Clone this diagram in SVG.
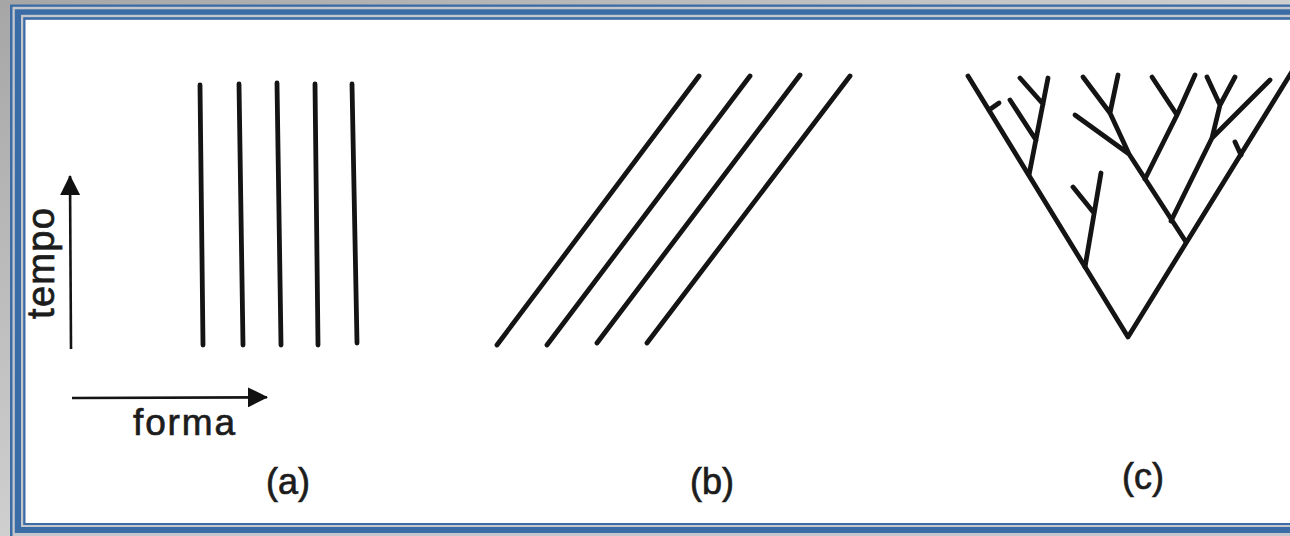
<svg xmlns="http://www.w3.org/2000/svg" width="1290" height="536" viewBox="0 0 1290 536">
<defs>
<linearGradient id="bg" x1="0" y1="0" x2="1" y2="1">
<stop offset="0" stop-color="#a6a6a6"/>
<stop offset="0.5" stop-color="#cfcfcf"/>
<stop offset="1" stop-color="#dedede"/>
</linearGradient>
<marker id="ah" viewBox="0 0 20 20" refX="19" refY="10" markerWidth="20" markerHeight="20" markerUnits="userSpaceOnUse" orient="auto">
<path d="M0,0 L20,10 L0,20 Z" fill="#111"/>
</marker>
<style>
.blue{fill:#3b6ca6}
.gap{fill:#c3c7cc}
.ln{stroke:#141414;stroke-width:4.8;stroke-linecap:round;stroke-linejoin:round;fill:none}
.ax{stroke:#141414;stroke-width:2.6;fill:none}
.lbl{font-family:"Liberation Sans",Arial,sans-serif;fill:#1c1c1c;stroke:#1c1c1c;stroke-width:0.7}
</style>
</defs>
<g id="frame">
<rect x="0" y="0" width="1290" height="536" fill="url(#bg)"/>
<rect class="blue" x="10" y="4.5" width="1400" height="540"/>
<rect class="gap" x="12.5" y="6.8" width="1400" height="529.7"/>
<rect class="blue" x="14.8" y="9.3" width="1400" height="523.7"/>
<rect class="gap" x="21" y="14.8" width="1400" height="512.2"/>
<rect class="blue" x="23.2" y="17.2" width="1400" height="507.8"/>
<rect x="25.5" y="19.8" width="1400" height="503.2" fill="#ffffff"/>
</g>
<g id="panel-a">
<path class="ln" d="M200,85 L203,345 M239,84 L243,345 M277,83 L281,345 M315,84 L318,345 M352,84 L357,343"/>
</g>
<g id="axes">
<line class="ax" x1="71" y1="349" x2="70" y2="176" marker-end="url(#ah)"/>
<line class="ax" x1="72" y1="398" x2="267" y2="397.3" marker-end="url(#ah)"/>
<text class="lbl" transform="translate(54,319) rotate(-90)" font-size="38" textLength="111" lengthAdjust="spacing">tempo</text>
<text class="lbl" x="133" y="435" font-size="37" textLength="102" lengthAdjust="spacing">forma</text>
</g>
<g id="panel-b">
<path class="ln" d="M497,345 L699,76 M547,345 L750,76 M597,343 L800,75 M647,343 L850,76"/>
</g>
<g id="panel-c">
<path class="ln" d="M968,76 L1128,337 L1296,65"/>
<path class="ln" d="M989,110 L999,103"/>
<path class="ln" d="M1029,175 L1048,78 M1043,104 L1020,78 M1036,140 L1010,100"/>
<path class="ln" d="M1085,267 L1101,173 M1094,213 L1073,187"/>
<path class="ln" d="M1186,242 L1129,154 L1075,115 M1129,154 L1110,113 L1083,77 M1110,113 L1118,75"/>
<path class="ln" d="M1145,179 L1177,115 L1152,77 M1177,115 L1195,75"/>
<path class="ln" d="M1171,221 L1212,138 L1220,105 L1207,77 M1220,105 L1235,77 M1212,138 L1270,80"/>
<path class="ln" d="M1241,155 L1235,142"/>
</g>
<g id="labels">
<text class="lbl" x="288" y="494" font-size="36" text-anchor="middle">(a)</text>
<text class="lbl" x="712" y="494" font-size="36" text-anchor="middle">(b)</text>
<text class="lbl" x="1143" y="489" font-size="36" text-anchor="middle">(c)</text>
</g>
</svg>
